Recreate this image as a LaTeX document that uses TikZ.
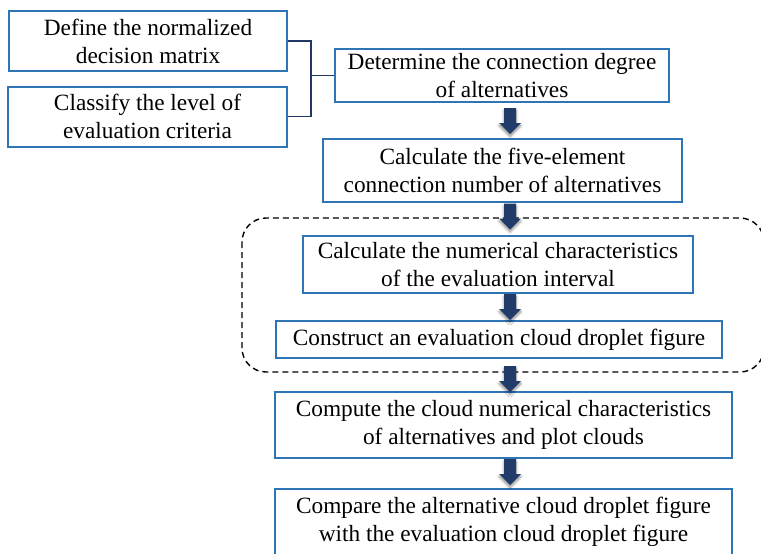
\documentclass[tikz,border=0pt]{standalone}
\usepackage{fontspec}
\setmainfont{Liberation Serif}
\usetikzlibrary{shadows.blur,calc}
\definecolor{boxblue}{HTML}{2E75B6}
\definecolor{navyline}{HTML}{203864}
\definecolor{navyfill}{HTML}{223C6A}
\tikzset{
  flowbox/.style={draw=boxblue, line width=2pt, fill=white, align=center, inner sep=0pt,
    font=\fontsize{23.3}{28}\selectfont},
  pics/barrow/.style={code={
    \fill[navyfill, blur shadow={shadow xshift=0pt, shadow yshift=-2.5pt, shadow blur radius=2.5pt, shadow blur steps=6, shadow opacity=45}]
      (-6,0) -- (6,0) -- (6,15) -- (11,15) -- (0,26) -- (-11,15) -- (-6,15) -- cycle;
  }},
}
\begin{document}
\begin{tikzpicture}[x=1pt,y=-1pt]
\useasboundingbox (0,0) rectangle (761,554);
\clip (0,0) rectangle (761,554);
\coordinate (colx) at (510,0);
\coordinate (bx) at (311,0);
% dashed group frame
\draw[black, line width=1.4pt, dash pattern=on 6pt off 4pt, rounded corners=24pt] (242,218) rectangle (764,372);
% boxes
\node[flowbox, minimum width=278pt, minimum height=60pt] (A) at (148,41) {Define the normalized\\decision matrix};
\node[flowbox, minimum width=279pt, minimum height=60pt] (B) at (147.5,116.5) {Classify the level of\\evaluation criteria};
\node[flowbox, minimum width=334pt, minimum height=53pt] (C) at (502,75.5) {Determine the connection degree\\of alternatives};
\node[flowbox, minimum width=359pt, minimum height=63pt] (D) at (502.5,170) {Calculate the five-element\\connection number of alternatives};
\node[flowbox, minimum width=390pt, minimum height=57pt] (E) at (498,264.5) {Calculate the numerical characteristics\\of the evaluation interval};
\node[flowbox, minimum width=446pt, minimum height=37pt] (F) at (499,339.5) {Construct an evaluation cloud droplet figure};
\node[flowbox, minimum width=457pt, minimum height=66pt] (G) at (503.5,425) {Compute the cloud numerical characteristics\\of alternatives and plot clouds};
\node[flowbox, minimum width=457pt, minimum height=66pt] (H) at (503.5,522) {Compare the alternative cloud droplet figure\\with the evaluation cloud droplet figure};
% bracket connector
\draw[navyline, line width=1.6pt] (A.east) -- (A.east -| bx) -- (B.east -| bx) -- (B.east);
\draw[navyline, line width=1.6pt] (bx |- C.west) -- (C.west);
% block arrows
\pic at ([yshift=-5pt]C.south -| colx) {barrow};
\pic at ([yshift=-1pt]D.south -| colx) {barrow};
\pic at ([yshift=0pt]E.south -| colx) {barrow};
\pic at ([yshift=-7pt]F.south -| colx) {barrow};
\pic at ([yshift=0pt]G.south -| colx) {barrow};
\end{tikzpicture}
\end{document}
